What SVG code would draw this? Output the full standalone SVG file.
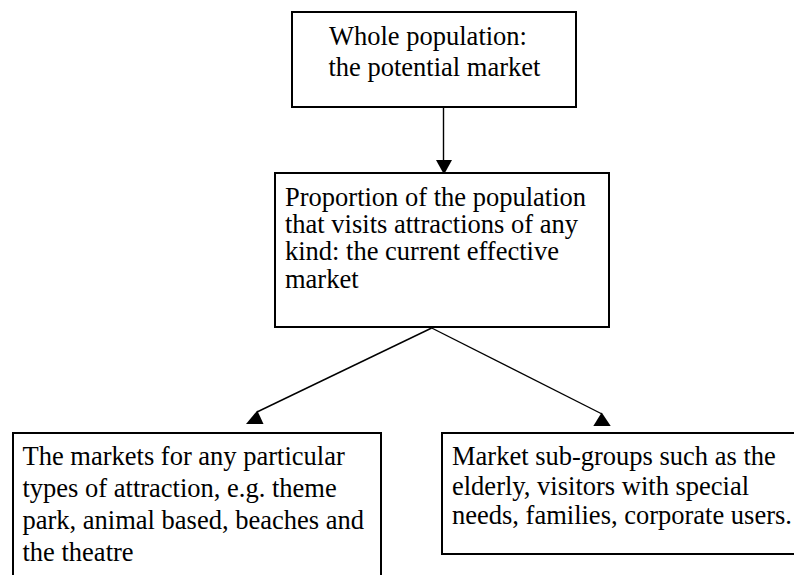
<svg xmlns="http://www.w3.org/2000/svg" width="794" height="575" viewBox="0 0 794 575">
  <style>
    .box { fill: #ffffff; stroke: #000000; stroke-width: 2; }
    .label { font-size: 26.5px; fill: #000000; }
    .link { stroke: #000000; stroke-width: 1.4; fill: none; }
    .head { fill: #000000; stroke: none; }
  </style>
  <rect width="794" height="575" fill="#ffffff"/>

  <g id="connectors">
    <line class="link" x1="443.5" y1="107" x2="443.5" y2="162"/>
    <polygon class="head" points="436,160 452,160 444,174.5"/>
    <line class="link" x1="431.7" y1="328" x2="257" y2="412"/>
    <polygon class="head" points="257.3,410.5 263.5,424 246,424"/>
    <line class="link" x1="431.7" y1="328" x2="602" y2="414"/>
    <polygon class="head" points="601.7,412.5 610.7,426 593.3,426"/>
  </g>

  <g id="whole-population">
    <rect class="box" x="292" y="12" width="284" height="95"/>
    <text class="label" font-family="Times New Roman" x="329" y="44.5">Whole population:</text>
    <text class="label" font-family="Times New Roman" x="328.5" y="76">the potential market</text>
  </g>

  <g id="effective-market">
    <rect class="box" x="275" y="173" width="334" height="154"/>
    <text class="label" font-family="Times New Roman" x="285" y="205.5">Proportion of the population</text>
    <text class="label" font-family="Times New Roman" x="285" y="232.5">that visits attractions of any</text>
    <text class="label" font-family="Times New Roman" x="285" y="260">kind: the current effective</text>
    <text class="label" font-family="Times New Roman" x="285" y="288">market</text>
  </g>

  <g id="attraction-types">
    <rect class="box" x="13" y="433" width="368" height="200"/>
    <text class="label" font-family="Times New Roman" x="22.5" y="465">The markets for any particular</text>
    <text class="label" font-family="Times New Roman" x="22.5" y="497">types of attraction, e.g. theme</text>
    <text class="label" font-family="Times New Roman" x="22.5" y="529">park, animal based, beaches and</text>
    <text class="label" font-family="Times New Roman" x="22.5" y="561">the theatre</text>
  </g>

  <g id="sub-groups">
    <rect class="box" x="442" y="433" width="400" height="121"/>
    <text class="label" font-family="Times New Roman" x="452" y="465">Market sub-groups such as the</text>
    <text class="label" font-family="Times New Roman" x="452" y="495">elderly, visitors with special</text>
    <text class="label" font-family="Times New Roman" x="452" y="524">needs, families, corporate users.</text>
  </g>
</svg>
